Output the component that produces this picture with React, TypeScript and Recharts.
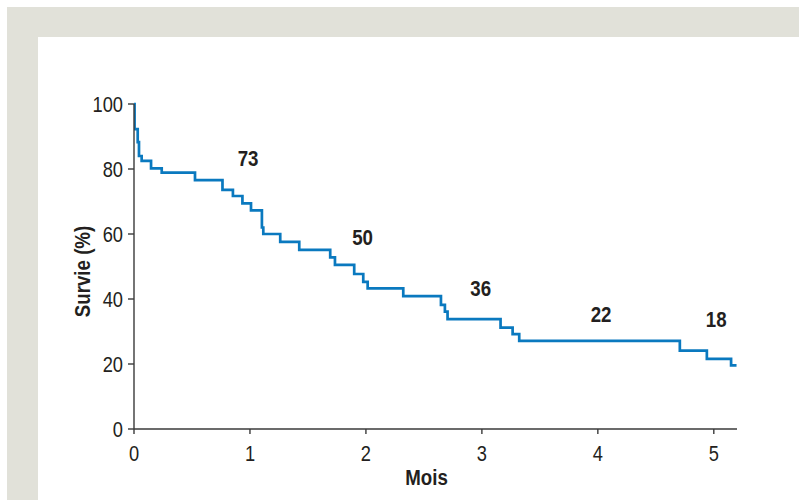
import React from 'react';
import { LineChart, Line, XAxis, YAxis, ReferenceDot } from 'recharts';

// Kaplan-Meier step data (time in months, survival %)
const times = [0, 0.005, 0.032, 0.043, 0.066, 0.147, 0.239, 0.526, 0.763, 0.853, 0.935, 1.009, 1.103, 1.115, 1.261, 1.425, 1.692, 1.733, 1.899, 1.977, 2.015, 2.322, 2.647, 2.681, 2.704, 3.161, 3.265, 3.322, 4.707, 4.94, 5.149, 5.196];
const survival = [100, 92.3, 88.3, 84.0, 82.5, 80.2, 78.9, 76.6, 73.6, 71.7, 69.4, 67.3, 62.0, 60.0, 57.6, 55.1, 52.8, 50.5, 47.7, 45.3, 43.3, 40.9, 38.2, 36.1, 33.8, 31.2, 29.2, 27.1, 24.1, 21.6, 19.6, 19.6];

// Numbers at risk annotations
const atRiskTimes = [0.984, 1.971, 2.99, 4.028, 5.02];
const atRiskLevels = [83.3, 58.9, 43.4, 35.3, 33.9];
const atRiskLabels = ['73', '50', '36', '22', '18'];

const xTicks = [0, 1, 2, 3, 4, 5];
const yTicks = [0, 20, 40, 60, 80, 100];

const data = times.map((t, i) => ({ t, s: survival[i] }));

const FONT = "'Liberation Sans', Arial, sans-serif";
const INK = '#231f20';
const AXIS = '#3a3a3a';
const BLUE = '#0a79bf';
const GRAY = '#e1e1d9';
const SQUEEZE = 0.85;
const TICK_FS = 21.5;
const BOLD_FS = 22;

const XTick = (props: any) => {
  const { x, y, payload } = props;
  return (
    <g transform={`translate(${x},${y + 22.5}) scale(${SQUEEZE},1)`}>
      <text x={0} y={0} textAnchor="middle" fill={INK} fontSize={TICK_FS} fontFamily={FONT}>
        {payload.value}
      </text>
    </g>
  );
};

const YTick = (props: any) => {
  const { x, y, payload } = props;
  return (
    <g transform={`translate(${x},${y + 0.358 * TICK_FS}) scale(${SQUEEZE},1)`}>
      <text x={0} y={0} textAnchor="end" fill={INK} fontSize={TICK_FS} fontFamily={FONT}>
        {payload.value}
      </text>
    </g>
  );
};

const boldText = (value: string, tx: number, ty: number, rotate = 0) => (
  <g transform={`translate(${tx},${ty}) rotate(${rotate}) scale(${SQUEEZE},1)`}>
    <text x={0} y={0} textAnchor="middle" fill={INK} fontSize={BOLD_FS} fontWeight={700} fontFamily={FONT}>
      {value}
    </text>
  </g>
);

export default function App() {
  return (
    <div style={{ position: 'absolute', left: 0, top: 0, width: 799, height: 500, background: '#ffffff', overflow: 'hidden' }}>
      <div style={{ position: 'absolute', left: 7, top: 7, width: 792, height: 30, background: GRAY }} />
      <div style={{ position: 'absolute', left: 7, top: 7, width: 31, height: 493, background: GRAY }} />
      <div style={{ position: 'absolute', left: 0, top: 0 }}>
        <LineChart width={799} height={500} data={data} margin={{ top: 104, right: 62, bottom: 0, left: 0 }}>
          <XAxis
            dataKey="t"
            type="number"
            domain={[0, 5.2]}
            ticks={xTicks}
            allowDataOverflow
            height={71}
            tickSize={5}
            tickMargin={4}
            stroke={AXIS}
            strokeWidth={1.4}
            tick={<XTick />}
            label={{
              content: (props: any) => {
                const vb = props.viewBox || { x: 134, y: 429, width: 603, height: 71 };
                return boldText('Mois', vb.x + vb.width / 2 - 9, vb.y + 56);
              },
            }}
          />
          <YAxis
            type="number"
            domain={[0, 100]}
            ticks={yTicks}
            width={134}
            tickSize={6}
            tickMargin={5}
            stroke={AXIS}
            strokeWidth={1.4}
            tick={<YTick />}
            label={{
              content: (props: any) => {
                const vb = props.viewBox || { x: 0, y: 104, width: 134, height: 325 };
                return boldText('Survie (%)', vb.x + 89.5, vb.y + vb.height / 2 + 5, -90);
              },
            }}
          />
          <Line
            dataKey="s"
            type="stepAfter"
            stroke={BLUE}
            strokeWidth={2.7}
            dot={false}
            activeDot={false}
            isAnimationActive={false}
          />
          {atRiskTimes.map((t, i) => (
            <ReferenceDot
              key={atRiskLabels[i]}
              x={t}
              y={atRiskLevels[i]}
              r={0}
              stroke="none"
              fill="none"
              label={{
                content: (props: any) => {
                  const vb = props.viewBox || { x: 0, y: 0 };
                  return boldText(atRiskLabels[i], vb.x, vb.y + 0.358 * BOLD_FS);
                },
              }}
            />
          ))}
        </LineChart>
      </div>
    </div>
  );
}
